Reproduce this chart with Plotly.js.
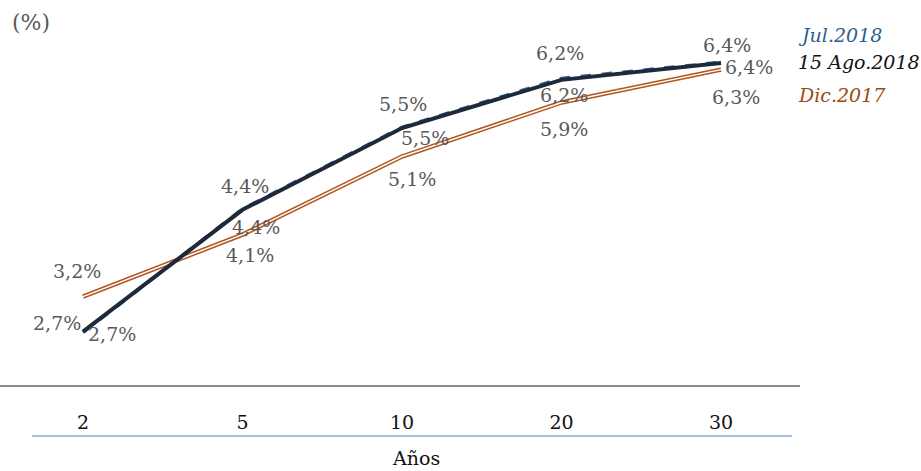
<!DOCTYPE html>
<html>
<head>
<meta charset="utf-8">
<script src="https://cdn.plot.ly/plotly-3.0.1.min.js"></script>
<style>html,body{margin:0;padding:0;background:#fff;}#chart{width:921px;height:471px;}</style>
</head>
<body>
<div id="chart"></div>
<script>
// Data
const years = ['2', '5', '10', '20', '30'];
const jul2018 = [2.72, 4.41, 5.53, 6.20, 6.42];
const ago2018 = [2.73, 4.40, 5.52, 6.18, 6.41];
const dic2017 = [3.21, 4.06, 5.13, 5.87, 6.32];
const seriesNames = ['Jul.2018', '15 Ago.2018', 'Dic.2017'];

// Label placement offsets (pixels, right / down)
const julOff = [[-26, -9], [3, -23], [1, -23], [-2, -25], [6, -17]];
const agoOff = [[29, 2], [14, 17], [23, 10], [2, 15], [28, 4]];
const dicOff = [[-6, -26], [8, 20], [10, 22], [2, 27], [15, 27]];

const FONT = 'DejaVu Serif';
const fmt = v => v.toFixed(1).replace('.', ',') + '%';

const traces = [
  {x: years, y: dic2017, type: 'scatter', mode: 'lines', line: {color: '#B0561F', width: 4.5}, hoverinfo: 'skip'},
  {x: years, y: dic2017, type: 'scatter', mode: 'lines', line: {color: '#ffffff', width: 1.5}, hoverinfo: 'skip'},
  {x: years, y: jul2018, type: 'scatter', mode: 'lines', line: {color: '#2E6399', width: 3.5, dash: 'dash'}, name: seriesNames[0]},
  {x: years, y: ago2018, type: 'scatter', mode: 'lines', line: {color: '#1E2939', width: 4}, name: seriesNames[1]}
];

const annotations = [];
function addLabels(vals, offs) {
  vals.forEach((v, i) => {
    annotations.push({
      x: i, y: v, xref: 'x', yref: 'y', text: fmt(v), showarrow: false,   // x = category index
      xanchor: 'center', yanchor: 'middle', xshift: offs[i][0], yshift: -offs[i][1],
      font: {family: FONT, size: 19, color: '#595959'}
    });
  });
}
addLabels(jul2018, julOff);
addLabels(ago2018, agoOff);
addLabels(dic2017, dicOff);

const legendColors = ['#2E5E8E', '#111111', '#9A4A15'];
const legendY = [0.959, 0.885, 0.795];
seriesNames.forEach((n, i) => {
  annotations.push({
    x: 0.995, y: legendY[i], xref: 'paper', yref: 'paper', text: '<i>' + n + '</i>', showarrow: false,
    xanchor: 'left', yanchor: 'middle', font: {family: FONT, size: 19, color: legendColors[i]}
  });
});

annotations.push({
  x: 0.0125, y: 0.992, xref: 'paper', yref: 'paper', text: '(%)', showarrow: false,
  xanchor: 'left', yanchor: 'middle', font: {family: FONT, size: 22, color: '#595959'}
});
annotations.push({
  x: 416 / 800, y: -0.200, xref: 'paper', yref: 'paper', text: 'Años', showarrow: false,
  xanchor: 'center', yanchor: 'middle', font: {family: FONT, size: 19, color: '#111111'}
});

const layout = {
  width: 921, height: 471,
  margin: {l: 0, r: 121, t: 20, b: 86},
  paper_bgcolor: '#ffffff', plot_bgcolor: '#ffffff',
  showlegend: false,
  xaxis: {
    type: 'category', categoryarray: years, range: [-0.52, 4.495],
    showline: true, linecolor: '#8c8c8c', linewidth: 1.5,
    showgrid: false, zeroline: false, ticks: '',
    tickfont: {family: FONT, size: 19, color: '#111111'},
    ticklabelstandoff: 20, fixedrange: true
  },
  yaxis: {range: [2, 7], visible: false, showgrid: false, zeroline: false, fixedrange: true},
  shapes: [{
    type: 'line', xref: 'paper', yref: 'paper', x0: 32 / 800, x1: 792 / 800, y0: -0.1397, y1: -0.1397,
    line: {color: '#7FAADA', width: 1.5}
  }],
  annotations: annotations
};

Plotly.newPlot('chart', traces, layout, {displayModeBar: false, staticPlot: true});
</script>
</body>
</html>
